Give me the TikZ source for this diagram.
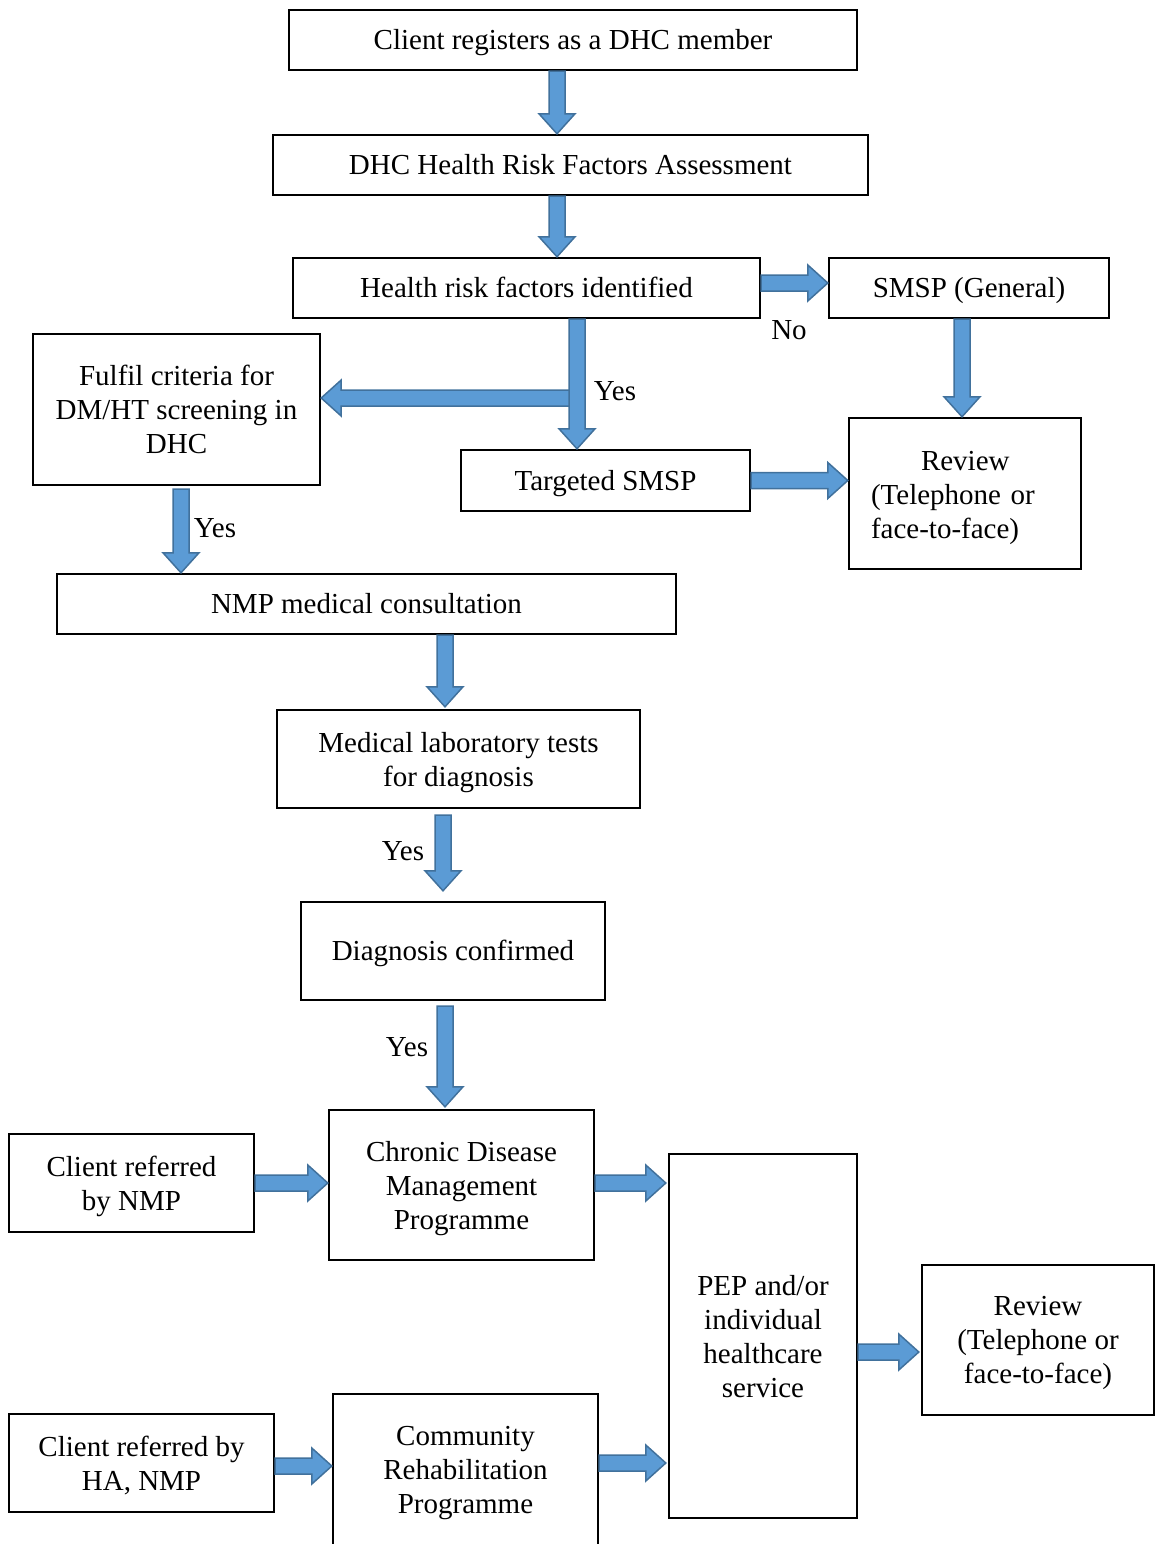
\documentclass[tikz,border=0pt]{standalone}
\usepackage{fontspec}
\setmainfont{Liberation Serif}
\usetikzlibrary{calc,positioning}

\definecolor{arrfill}{HTML}{5B9BD5}
\definecolor{arrline}{HTML}{41719C}

% block arrow from #1 to #2
\newcommand{\blockarrow}[2]{%
  \coordinate (ba-s) at (#1);
  \coordinate (ba-e) at (#2);
  \coordinate (ba-b) at ($(ba-e)!20pt!(ba-s)$);
  \draw[blockarr] ($(ba-s)!8pt!90:(ba-e)$) -- ($(ba-b)!8pt!90:(ba-e)$) -- ($(ba-b)!18pt!90:(ba-e)$) -- (ba-e)
    -- ($(ba-b)!18pt!-90:(ba-e)$) -- ($(ba-b)!8pt!-90:(ba-e)$) -- ($(ba-s)!8pt!-90:(ba-e)$) -- cycle;
}

\begin{document}
\begin{tikzpicture}[x=1pt, y=-1pt,
    box/.style={draw, line width=2.4pt, inner sep=0pt, align=center, font=\fontsize{29}{34}\selectfont},
    oneline/.style={text height=19pt, text depth=0pt},
    multi/.style={text depth=-2pt},
    blockarr/.style={fill=arrfill, draw=arrline, line width=1.5pt, line join=miter},
    lbl/.style={inner sep=0pt, font=\fontsize{29}{34}\selectfont}
  ]
    \useasboundingbox (0,0) rectangle (1155,1544);
    \clip (0,0) rectangle (1155,1544);

    % Top of the chart.
    \node[box, oneline, minimum width=568pt, minimum height=60pt] at (573,40) (register) {Client registers as a DHC member};
    \node[box, oneline, minimum width=595pt, minimum height=60pt] at (570.5,165) (assess) {DHC Health Risk Factors Assessment};
    \node[box, oneline, minimum width=467pt, minimum height=60pt] at (526.5,288) (identified) {Health risk factors identified};
    \node[box, oneline, minimum width=280pt, minimum height=60pt] at (969,288) (general) {SMSP (General)};
    \node[box, multi, minimum width=287pt, minimum height=151pt] at (176.5,409.5) (criteria) {Fulfil criteria for\\DM/HT screening in\\DHC};
    \node[box, oneline, minimum width=289pt, minimum height=61pt] at (605.5,480.5) (targeted) {Targeted SMSP};
    \node[box, minimum width=232pt, minimum height=151pt, text width=188pt, text depth=66pt, align=left] at (965,493.5) (review1) {\hspace*{50pt}Review\\(Telephone or\\face-to-face)};

    % Diagnosis.
    \node[box, oneline, minimum width=619pt, minimum height=60pt] at (366.5,604) (consult) {NMP medical consultation};
    \node[box, multi, minimum width=363pt, minimum height=98pt] at (458.5,759) (labtest) {Medical laboratory tests\\for diagnosis};
    \node[box, oneline, minimum width=304pt, minimum height=98pt] at (453,951) (confirmed) {Diagnosis confirmed};

    % Programmes.
    \node[box, multi, minimum width=245pt, minimum height=98pt] at (131.5,1183) (refnmp) {Client referred\\by NMP};
    \node[box, multi, minimum width=265pt, minimum height=150pt] at (461.5,1185) (cdmp) {Chronic Disease\\Management\\Programme};
    \node[box, multi, minimum width=188pt, minimum height=364pt] at (763,1336) (pep) {PEP and/or\\individual\\healthcare\\service};
    \node[box, multi, minimum width=232pt, minimum height=150pt] at (1038,1340) (review2) {Review\\(Telephone or\\face-to-face)};
    \node[box, multi, minimum width=265pt, minimum height=98pt] at (141.5,1463) (refha) {Client referred by\\HA, NMP};
    \node[box, multi, minimum width=265pt, minimum height=152pt] at (465.5,1470) (crp) {Community\\Rehabilitation\\Programme};

    % Arrows, top part.
    \coordinate (a1) at ([xshift=-16pt]register.south);
    \blockarrow{a1}{a1 |- assess.north}
    \coordinate (a2) at ([xshift=-13.5pt]assess.south);
    \blockarrow{a2}{a2 |- identified.north}
    \coordinate (a3) at ([yshift=5pt]identified.east);
    \blockarrow{a3}{a3 -| general.west}
    \coordinate (a4) at ([xshift=50.5pt]identified.south);
    \coordinate (a5) at ([yshift=11.5pt]criteria.east);
    \blockarrow{a4 |- a5}{a5}
    \blockarrow{a4}{a4 |- targeted.north}
    \coordinate (a6) at ([xshift=-7pt]general.south);
    \blockarrow{a6}{a6 |- review1.north}
    \coordinate (a7) at (targeted.east);
    \blockarrow{a7}{a7 -| review1.west}
    \coordinate (a8) at ([xshift=4.5pt,yshift=-3pt]criteria.south);
    \blockarrow{a8}{a8 |- consult.north}

    % Arrows, diagnosis.
    \coordinate (a9) at ([xshift=78.5pt]consult.south);
    \blockarrow{a9}{$(a9 |- labtest.north)+(0,-2)$}
    \coordinate (a10) at ([xshift=-15.5pt,yshift=-6pt]labtest.south);
    \blockarrow{a10}{$(a10 |- confirmed.north)+(0,-10)$}
    \coordinate (a11) at ([xshift=-8pt,yshift=-5pt]confirmed.south);
    \blockarrow{a11}{$(a11 |- cdmp.north)+(0,-2)$}

    % Arrows, programmes.
    \coordinate (a12) at (refnmp.east);
    \blockarrow{a12}{a12 -| cdmp.west}
    \coordinate (a13) at ([yshift=2pt]cdmp.east);
    \blockarrow{a13}{$(a13 -| pep.west)+(-2,0)$}
    \coordinate (a14) at ([yshift=-16pt]pep.east);
    \blockarrow{a14}{$(a14 -| review2.west)+(-2,0)$}
    \coordinate (a15) at ([yshift=-3pt]refha.east);
    \blockarrow{a15}{a15 -| crp.west}
    \coordinate (a16) at ([yshift=7pt]crp.east);
    \blockarrow{a16}{$(a16 -| pep.west)+(-2,0)$}

    % Labels.
    \node[lbl] at (789,330) (no) {No};
    \node[lbl] at (615,391) (yes1) {Yes};
    \node[lbl] at (215,528) (yes2) {Yes};
    \node[lbl] at (403,851) (yes3) {Yes};
    \node[lbl] at (407,1047) (yes4) {Yes};
\end{tikzpicture}
\end{document}
